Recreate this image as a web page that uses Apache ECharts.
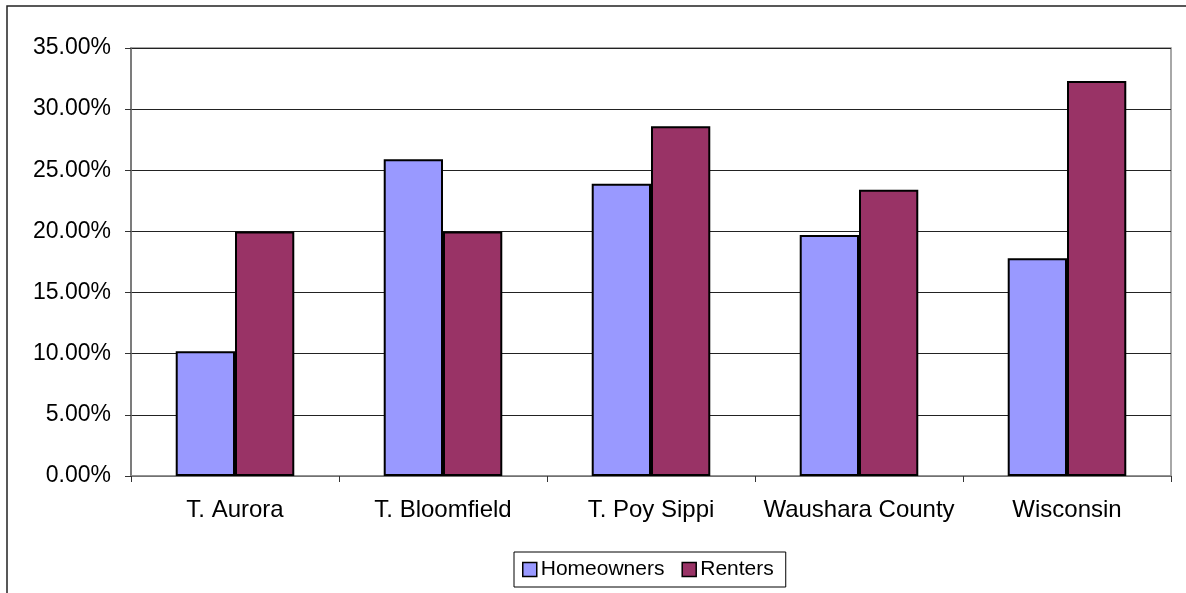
<!DOCTYPE html>
<html>
<head>
<meta charset="utf-8">
<script src="https://cdn.jsdelivr.net/npm/echarts@6/dist/echarts.min.js"></script>
<style>
  html, body { margin: 0; padding: 0; background: #fff; }
  #chart { width: 1186px; height: 593px; }
</style>
</head>
<body>
<div id="chart"></div>
<script>
// Share of households by place (percent)
const categories = ['T. Aurora', 'T. Bloomfield', 'T. Poy Sippi', 'Waushara County', 'Wisconsin'];
const homeowners = [10.2, 25.9, 23.9, 19.7, 17.8];
const renters = [20.0, 20.0, 28.6, 23.4, 32.3];
const seriesNames = ['Homeowners', 'Renters'];

const FONT = '"Liberation Sans", Arial, sans-serif';

const chart = echarts.init(document.getElementById('chart'), null, { renderer: 'canvas' });

chart.setOption({
  animation: false,
  backgroundColor: '#ffffff',
  textStyle: { fontFamily: FONT },
  graphic: [
    {
      // outer chart frame (runs off the right and bottom edges)
      type: 'rect',
      shape: { x: 7, y: 6, width: 1200, height: 620 },
      style: { fill: 'none', stroke: '#222', lineWidth: 1.5 },
      silent: true
    },
    {
      // plot area border
      type: 'rect',
      shape: { x: 131, y: 48, width: 1040, height: 428 },
      style: { fill: 'none', stroke: '#8c8c8c', lineWidth: 1.5 },
      silent: true,
      z: 0
    }
  ],
  grid: { left: 131, right: 15, top: 48, bottom: 117, containLabel: false },
  legend: {
    data: seriesNames,
    left: 514,
    top: 552,
    padding: [7, 12, 7, 8],
    borderColor: '#000',
    borderWidth: 1,
    itemWidth: 14,
    itemHeight: 14,
    itemGap: 17,
    icon: 'rect',
    textStyle: { fontFamily: FONT, fontSize: 21, color: '#000', padding: [0, 0, 0, -1] },
    itemStyle: { borderColor: '#000', borderWidth: 1.5 }
  },
  xAxis: {
    type: 'category',
    data: categories,
    axisLine: { lineStyle: { color: '#8c8c8c', width: 1.5 } },
    axisTick: { show: true, inside: false, length: 6, alignWithLabel: false, lineStyle: { color: '#333' } },
    axisLabel: { fontFamily: FONT, fontSize: 24, color: '#000', margin: 22, interval: 0 },
    splitLine: { show: false }
  },
  yAxis: {
    type: 'value',
    min: 0,
    max: 35,
    interval: 5,
    axisLine: { show: true, lineStyle: { color: '#6e6e6e', width: 1.5 } },
    axisTick: { show: true, inside: false, length: 6, lineStyle: { color: '#333' } },
    axisLabel: {
      fontFamily: FONT, fontSize: 23, color: '#000', margin: 20,
      formatter: v => v.toFixed(2) + '%'
    },
    splitLine: { show: true, lineStyle: { color: '#222', width: 1 } }
  },
  series: [
    {
      name: seriesNames[0],
      type: 'bar',
      data: homeowners,
      barGap: '0%',
      barCategoryGap: '43%',
      itemStyle: { color: '#9999ff', borderColor: '#000', borderWidth: 2 }
    },
    {
      name: seriesNames[1],
      type: 'bar',
      data: renters,
      barGap: '0%',
      barCategoryGap: '43%',
      itemStyle: { color: '#993366', borderColor: '#000', borderWidth: 2 }
    }
  ]
});
</script>
</body>
</html>
